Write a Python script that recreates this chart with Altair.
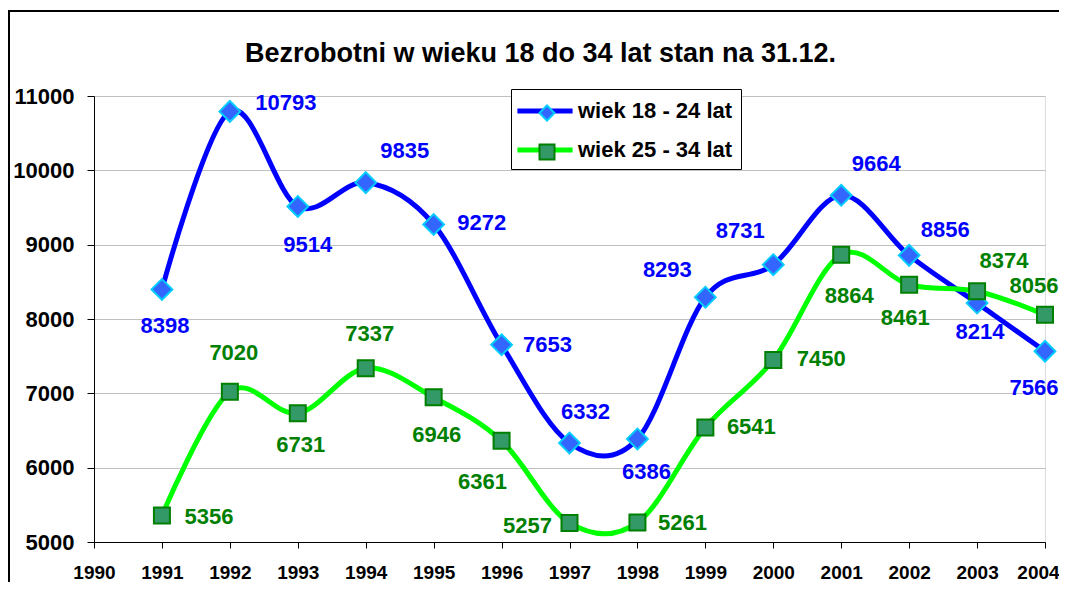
import altair as alt
import pandas as pd

# ---- data ----
years = [1991, 1992, 1993, 1994, 1995, 1996, 1997, 1998, 1999, 2000, 2001, 2002, 2003, 2004]
series_names = ["wiek 18 - 24 lat", "wiek 25 - 34 lat"]
young = [8398, 10793, 9514, 9835, 9272, 7653, 6332, 6386, 8293, 8731, 9664, 8856, 8214, 7566]
older = [5356, 7020, 6731, 7337, 6946, 6361, 5257, 5261, 6541, 7450, 8864, 8461, 8374, 8056]
x_ticks = list(range(1990, 2005))
y_ticks = [5000, 6000, 7000, 8000, 9000, 10000, 11000]
title_text = "Bezrobotni w wieku 18 do 34 lat stan na 31.12."

# data-label placement (pixel offsets from each point)
young_dx = [3, 56, 10, 39, 48, 46, 16, 9, -38, -33, 35, 36, 3, -11]
young_dy = [37, -8, 39, -32, -1, 0, -31, 33, -27, -34, -31, -25, 29, 37]
older_dx = [47, 4, 3, 4, 3, -19, -42, 45, 46, 48, 8, -4, 27, -11]
older_dy = [1, -39, 32, -34, 38, 41, 3, 0, 0, -1, 41, 33, -30, -29]

# ---- styling ----
FONT = "Liberation Sans"
W, H = 951, 446
X_DOMAIN = [1990, 2004]
Y_DOMAIN = [5000, 11000]
line_colors = ["#0000FF", "#00FF00"]
fill_colors = ["#3366FF", "#339966"]
edge_colors = ["#00CCFF", "#008000"]
label_colors = ["#0000FF", "#008000"]
shapes = ["diamond", "square"]
marker_sizes = [430, 256]

rows = []
for name, vals, dxs, dys in [(series_names[0], young, young_dx, young_dy),
                             (series_names[1], older, older_dx, older_dy)]:
    for yr, v, dx, dy in zip(years, vals, dxs, dys):
        rows.append({"year": yr, "value": v, "series": name, "dx": dx, "dy": dy})
df = pd.DataFrame(rows)

x_per_px = (X_DOMAIN[1] - X_DOMAIN[0]) / W
y_per_px = (Y_DOMAIN[1] - Y_DOMAIN[0]) / H


def xenc(field):
    return alt.X(
        f"{field}:Q",
        scale=alt.Scale(domain=X_DOMAIN, nice=False, zero=False),
        axis=alt.Axis(values=x_ticks, format="d", title=None, grid=False,
                      tickSize=6, tickColor="black", domainColor="black",
                      labelPadding=15, labelFontSize=19, labelFont=FONT,
                      labelFontWeight="bold", labelColor="black",
                      labelOffset=alt.condition("datum.value == 2004", alt.value(-7), alt.value(0)),
                      labelFlush=False, labelOverlap=False),
    )


def yenc(field):
    return alt.Y(
        f"{field}:Q",
        scale=alt.Scale(domain=Y_DOMAIN, nice=False, zero=False),
        axis=alt.Axis(values=y_ticks, format="d", title=None, grid=True,
                      gridColor="#C0C0C0", gridWidth=1,
                      tickSize=7, tickColor="black", domainColor="black",
                      labelPadding=13, labelFontSize=22, labelFont=FONT,
                      labelFontWeight="bold", labelColor="black"),
    )


base = alt.Chart(df)

frame = base.mark_rect(fillOpacity=0, stroke="black", strokeWidth=2).encode(
    x=alt.value(-85), x2=alt.value(1000), y=alt.value(-85), y2=alt.value(600)
)

# legend: a line legend (with the box and labels) and a marker legend drawn on top of it
legend_line = alt.Legend(
    title=None, orient="none", legendX=417, legendY=-7, zindex=1,
    symbolType="M-2.4,0L2.4,0", symbolSize=529, symbolStrokeWidth=5, symbolOffset=12,
    labelFont=FONT, labelFontSize=22, labelFontWeight="bold", labelColor="black",
    labelOffset=19, rowPadding=14, padding=8,
    strokeColor="black", fillColor="white",
)

legend_marker = alt.Legend(
    title=None, orient="none", legendX=434, legendY=-2, zindex=5,
    symbolSize=225, symbolStrokeWidth=2,
    labelFont=FONT, labelFontSize=22, labelFontWeight="bold", labelOpacity=0,
    labelExpr="' '",
    labelOffset=5, rowPadding=15, padding=8,
)

lines = base.transform_calculate(line_series="datum.series").mark_line(
    interpolate="cardinal", strokeWidth=5
).encode(
    x=xenc("year"), y=yenc("value"),
    color=alt.Color("line_series:N", scale=alt.Scale(range=line_colors), legend=legend_line),
)

points = base.mark_point(filled=True, opacity=1, strokeWidth=2).encode(
    x=xenc("year"), y=yenc("value"),
    fill=alt.Fill("series:N", scale=alt.Scale(domain=series_names, range=fill_colors),
                  legend=legend_marker),
    stroke=alt.Stroke("series:N", scale=alt.Scale(domain=series_names, range=edge_colors),
                      legend=legend_marker),
    shape=alt.Shape("series:N", scale=alt.Scale(domain=series_names, range=shapes),
                    legend=legend_marker),
    size=alt.Size("series:N", scale=alt.Scale(range=marker_sizes), legend=None),
)


def label_layer(idx):
    return base.transform_filter(
        alt.datum.series == series_names[idx]
    ).transform_calculate(
        lx=f"datum.year + datum.dx * {x_per_px}",
        ly=f"datum.value - datum.dy * {y_per_px}",
    ).mark_text(
        font=FONT, fontSize=22, fontWeight="bold", align="center", baseline="middle",
        color=label_colors[idx],
    ).encode(
        x=xenc("lx"), y=yenc("ly"),
        text=alt.Text("value:Q", format="d"),
    )


chart = alt.layer(frame, lines, points, label_layer(0), label_layer(1)).properties(
    width=W, height=H,
    autosize=alt.AutoSizeParams(type="none"),
    padding={"left": 86, "top": 88, "right": 14, "bottom": 40},
    title=alt.TitleParams(title_text, font=FONT, fontSize=27, fontWeight="bold",
                          color="black", anchor="middle", dx=-29, offset=-58),
).configure_view(stroke=None).configure(background="white")

chart.save("out.html", embed_options={"renderer": "svg", "actions": False})
